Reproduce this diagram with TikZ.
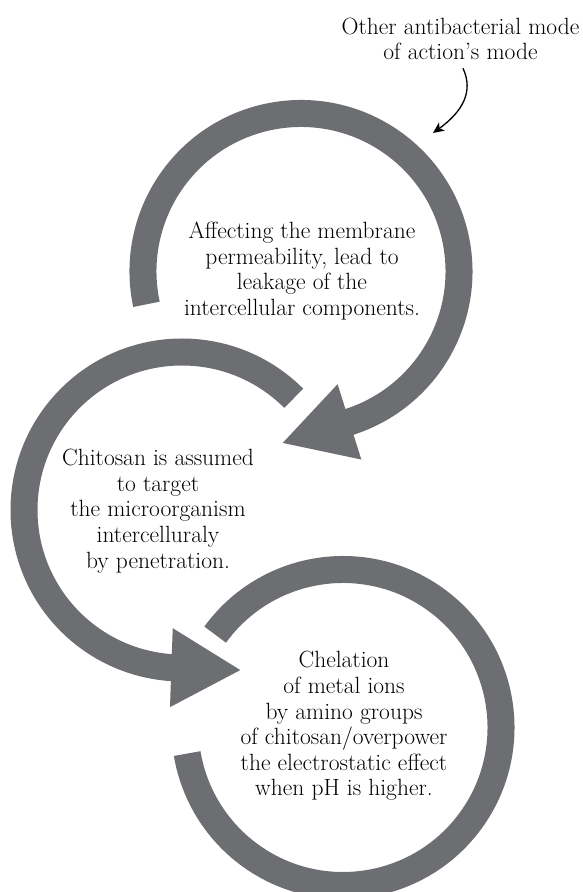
\documentclass[tikz,border=0pt]{standalone}
\usetikzlibrary{arrows.meta,calc}
\definecolor{ringgray}{RGB}{109,110,113}
\tikzset{
  ring/.style={draw=ringgray, line width=27pt},
  ringtip/.style={fill=ringgray},
  ringtext/.style={align=center, inner sep=0pt, font=\fontsize{23.5}{25.6}\selectfont},
  callout/.style={line width=1.3pt, -{Stealth[length=11pt,width=10pt,inset=3pt]}}
}
\begin{document}
\begin{tikzpicture}[x=1pt,y=1pt]
      \useasboundingbox (0,0) rectangle (582,892);
      \coordinate (c1) at (301,620.5);
      \coordinate (c2) at (182,382);
      \coordinate (c3) at (343,164.5);
      \begin{scope}
        \draw[ring] ($(c1)+(192:158)$) arc[start angle=192, end angle=-72.5, radius=158];
        \fill[ringtip, shift={($(c1)+(-72.5:158)$)}, rotate=-162.5]
          (-1,-39.5) -- (69,0) -- (-1,39.5) -- cycle;
        \draw[ring] ($(c2)+(45:158)$) arc[start angle=45, end angle=266.5, radius=158];
        \fill[ringtip, shift={($(c2)+(266.5:158)$)}, rotate=358]
          (-1,-39.5) -- (68,0) -- (-1,39.5) -- cycle;
        \draw[ring] ($(c3)+(144:158)$) arc[start angle=144, end angle=-170.5, radius=158];
      \end{scope}
      \node[ringtext] (affect) at (302,621)
        {Affecting the membrane\\permeability, lead to\\leakage of the\\intercellular components.};
      \node[ringtext] (target) at (158,381)
        {Chitosan is assumed\\to target\\the microorganism\\intercelluraly\\by penetration.};
      \node[ringtext] (chelate) at (344,166)
        {Chelation\\of metal ions\\by amino groups\\of chitosan/overpower\\the electrostatic effect\\when pH is higher.};
      \node[ringtext] (note) at (460.5,853) {Other antibacterial mode\\of action's mode};
      \coordinate (notetip) at (433,759);
      \draw[callout] ([xshift=2.5pt,yshift=-8pt]note.south)
        .. controls (474,800) and (462,780) .. (notetip);
    \end{tikzpicture}
\end{document}
